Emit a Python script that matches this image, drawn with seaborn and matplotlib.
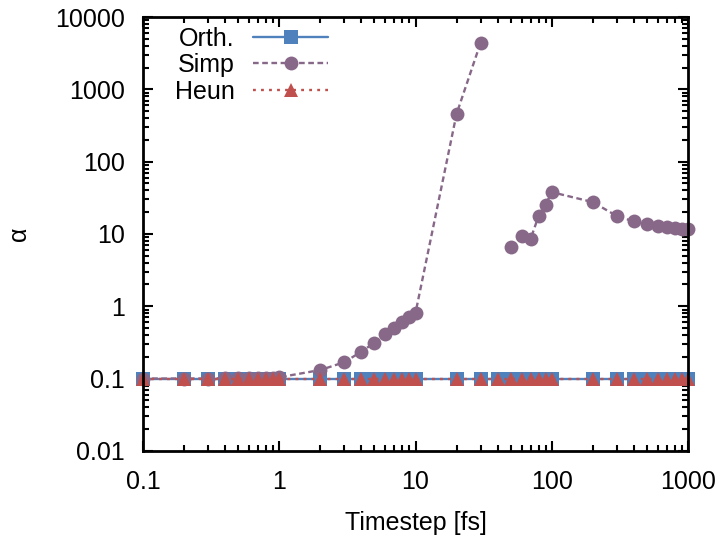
import numpy as np
import pandas as pd
import matplotlib
matplotlib.use("Agg")
import matplotlib.pyplot as plt
import seaborn as sns
from matplotlib.ticker import LogLocator, FuncFormatter, NullFormatter

# timesteps in fs: 0.1..0.9, 1..9, 10..90, 100..1000
timestep = [0.1, 0.2, 0.3, 0.4, 0.5, 0.6, 0.7, 0.8, 0.9,
            1, 2, 3, 4, 5, 6, 7, 8, 9,
            10, 20, 30, 40, 50, 60, 70, 80, 90,
            100, 200, 300, 400, 500, 600, 700, 800, 900, 1000]

orth = [0.1] * len(timestep)
heun = [0.1] * len(timestep)
simp = [0.1, 0.1, 0.1, 0.101, 0.101, 0.102, 0.102, 0.103, 0.103,
        0.104, 0.131, 0.168, 0.235, 0.313, 0.41, 0.494, 0.598, 0.716,
        0.81, 457, 4400, np.nan, 6.65, 9.35, 8.6, 17.7, 25.4,
        37.9, 27.6, 17.7, 14.9, 13.7, 12.8, 12.3, 12.1, 11.8, 11.6]

x_ticks = [0.1, 1, 10, 100, 1000]
y_ticks = [0.01, 0.1, 1, 10, 100, 1000, 10000]

blue = "#4f81bd"
purple = "#876888"
red = "#c0504d"

sns.set_style("ticks")
plt.rcParams["font.family"] = ["Liberation Sans", "DejaVu Sans"]
plt.rcParams["text.color"] = "black"
plt.rcParams["xtick.color"] = "black"
plt.rcParams["ytick.color"] = "black"
plt.rcParams["axes.labelcolor"] = "black"

fig, ax = plt.subplots(figsize=(7.22, 5.36), dpi=100)
fig.subplots_adjust(left=0.198, right=0.953, bottom=0.159, top=0.968)

df = pd.DataFrame({"t": timestep, "orth": orth, "simp": simp, "heun": heun})

lw = 1.7
sns.lineplot(data=df, x="t", y="orth", ax=ax, color=blue, lw=lw,
             marker="s", markersize=10.5, markeredgewidth=0, label="Orth.")

# simp has a gap (blew up at 40 fs), draw the two pieces separately
gap = df["simp"].isna().idxmax()
seg1 = df.iloc[:gap]
seg2 = df.iloc[gap + 1:]
sns.lineplot(data=seg1, x="t", y="simp", ax=ax, color=purple, lw=lw,
             marker="o", markersize=10, markeredgewidth=0, label="Simp")
sns.lineplot(data=seg2, x="t", y="simp", ax=ax, color=purple, lw=lw,
             marker="o", markersize=10, markeredgewidth=0)
for line in ax.lines[-2:]:
    line.set_dashes([2.4, 1.5])

sns.lineplot(data=df, x="t", y="heun", ax=ax, color=red, lw=lw,
             marker="^", markersize=10, markeredgewidth=0, label="Heun")
ax.lines[-1].set_dashes([1.2, 2.2])

for line in ax.lines:
    line.set_clip_on(False)

ax.set_xscale("log")
ax.set_yscale("log")
ax.set_xlim(0.1, 1000)
ax.set_ylim(0.01, 10000)

fmt = FuncFormatter(lambda v, p: "%g" % v)
ax.set_xticks(x_ticks)
ax.set_yticks(y_ticks)
ax.xaxis.set_major_formatter(fmt)
ax.yaxis.set_major_formatter(fmt)
ax.xaxis.set_minor_locator(LogLocator(base=10, subs=np.arange(2, 10), numticks=20))
ax.yaxis.set_minor_locator(LogLocator(base=10, subs=np.arange(2, 10), numticks=20))
ax.xaxis.set_minor_formatter(NullFormatter())
ax.yaxis.set_minor_formatter(NullFormatter())

ax.tick_params(which="both", direction="in", top=True, right=True,
               width=1.5, labelsize=18)
ax.tick_params(axis="y", pad=13)
ax.tick_params(axis="x", pad=14)
ax.tick_params(which="major", length=7)
ax.tick_params(which="minor", length=4)
for sp in ax.spines.values():
    sp.set_visible(True)
    sp.set_linewidth(2)
    sp.set_color("black")

ax.set_xlabel("Timestep [fs]", fontsize=18, labelpad=12)
ax.set_ylabel("α", fontsize=18, labelpad=17)

leg = ax.legend(loc="upper left", bbox_to_anchor=(0.058, 0.978), frameon=False,
                markerfirst=False, fontsize=18, handlelength=3.0,
                handletextpad=0.75, labelspacing=0.1, borderaxespad=0.0,
                borderpad=0.0)
leg._legend_box.align = "right"

fig.savefig("out.png", dpi=100)
